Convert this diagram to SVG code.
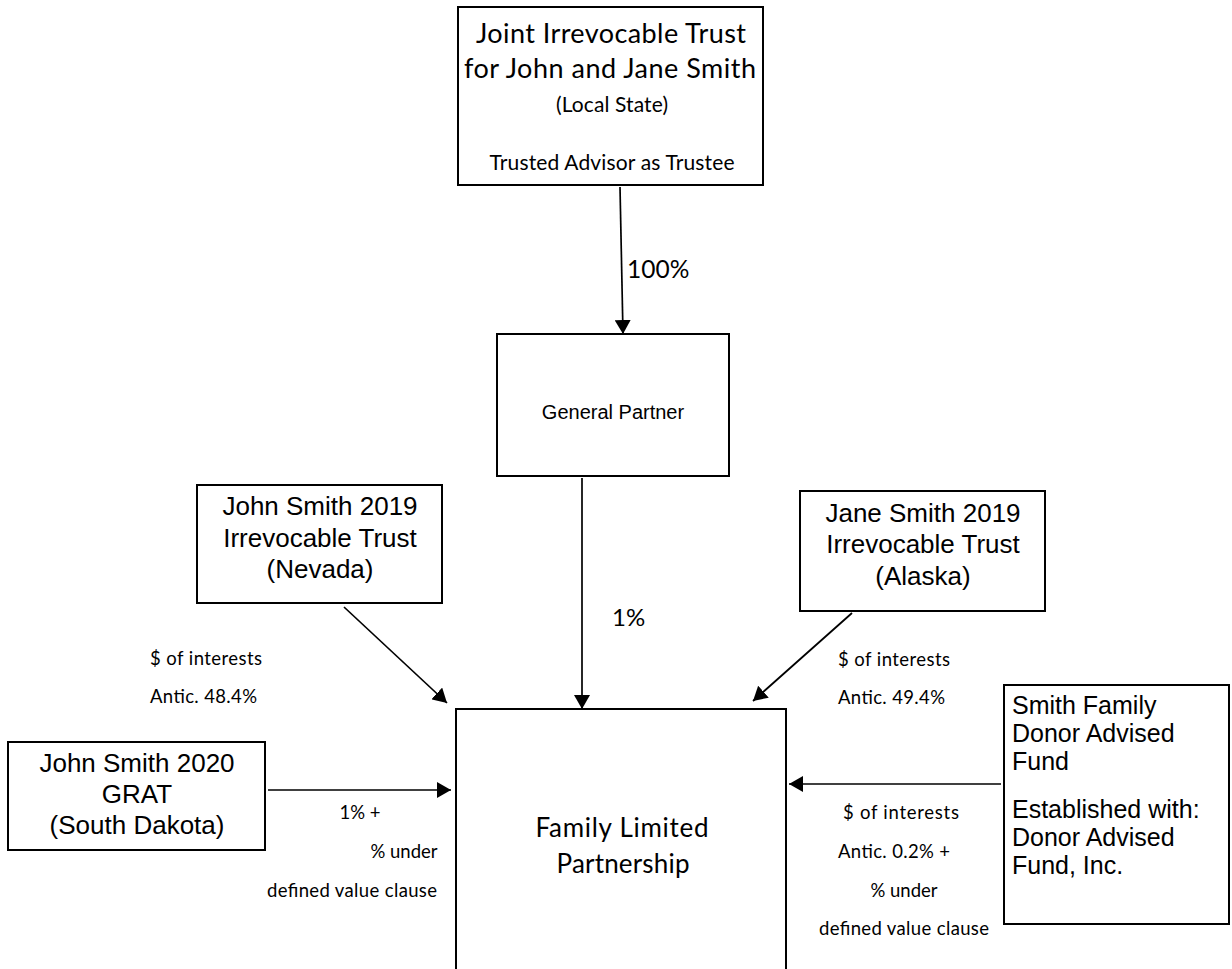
<svg xmlns="http://www.w3.org/2000/svg" width="1232" height="969" viewBox="0 0 1232 969">
  <style>
    .box { fill: #ffffff; stroke: #000000; stroke-width: 2; }
    .edge { fill: none; stroke: #000000; stroke-width: 1.7; }
    .cal { font-family: Lato, "Open Sans", sans-serif; fill: #000000; }
    .ari { font-family: "Liberation Sans", Arial, sans-serif; fill: #000000; }
    .mid { text-anchor: middle; }
  </style>
  <defs>
    <marker id="head" viewBox="0 0 14 16" refX="14" refY="8" markerWidth="14" markerHeight="16" markerUnits="userSpaceOnUse" orient="auto">
      <path d="M0,0 L14,8 L0,16 Z" fill="#000000"/>
    </marker>
  </defs>

  <rect width="1232" height="969" fill="#ffffff"/>

  <!-- connectors and their labels -->
  <g id="connectors">
    <line class="edge" x1="620" y1="187" x2="623" y2="334" marker-end="url(#head)"/>
    <line class="edge" x1="582" y1="478" x2="582" y2="709" marker-end="url(#head)"/>
    <line class="edge" x1="344" y1="607" x2="447" y2="703" marker-end="url(#head)"/>
    <line class="edge" x1="852" y1="613" x2="753" y2="701" marker-end="url(#head)"/>
    <line class="edge" x1="268" y1="790" x2="451" y2="790" marker-end="url(#head)"/>
    <line class="edge" x1="1001" y1="784" x2="789" y2="784" marker-end="url(#head)"/>

    <text class="cal" x="627" y="278" font-size="24.5">100%</text>
    <text class="cal" x="612" y="626" font-size="24">1%</text>

    <text class="cal" x="150" y="665" font-size="18.5" textLength="112">$ of interests</text>
    <text class="cal" x="150" y="703" font-size="18.5" textLength="107">Antic. 48.4%</text>

    <text class="cal" x="838" y="666" font-size="18.5" textLength="112">$ of interests</text>
    <text class="cal" x="838" y="704" font-size="18.5" textLength="107">Antic. 49.4%</text>

    <text class="cal mid" x="360" y="819" font-size="18.5">1% +</text>
    <text class="cal mid" x="404" y="858" font-size="18.5">% under</text>
    <text class="cal mid" x="352" y="897" font-size="18.5" textLength="170">defined value clause</text>

    <text class="cal mid" x="901" y="819" font-size="18.5" textLength="116">$ of interests</text>
    <text class="cal mid" x="894" y="858" font-size="18.5" textLength="112">Antic. 0.2% +</text>
    <text class="cal mid" x="904" y="897" font-size="18.5">% under</text>
    <text class="cal mid" x="904" y="935" font-size="18.5" textLength="170">defined value clause</text>
  </g>

  <!-- joint trust at the top -->
  <g id="joint-trust">
    <rect class="box" x="458" y="7" width="305" height="178"/>
    <text class="cal mid" x="611" y="43" font-size="27" textLength="270">Joint Irrevocable Trust</text>
    <text class="cal mid" x="610" y="78" font-size="27" textLength="292">for John and Jane Smith</text>
    <text class="cal mid" x="612" y="112" font-size="21" textLength="112">(Local State)</text>
    <text class="cal mid" x="612" y="170" font-size="21" textLength="245">Trusted Advisor as Trustee</text>
  </g>

  <g id="general-partner">
    <rect class="box" x="497" y="334" width="232" height="142"/>
    <text class="ari mid" x="613" y="419" font-size="20">General Partner</text>
  </g>

  <g id="john-2019">
    <rect class="box" x="197" y="485" width="245" height="118"/>
    <text class="ari mid" x="320" y="515" font-size="26">John Smith 2019</text>
    <text class="ari mid" x="320" y="547" font-size="26">Irrevocable Trust</text>
    <text class="ari mid" x="320" y="578" font-size="26">(Nevada)</text>
  </g>

  <g id="jane-2019">
    <rect class="box" x="800" y="491" width="245" height="120"/>
    <text class="ari mid" x="923" y="522" font-size="26">Jane Smith 2019</text>
    <text class="ari mid" x="923" y="553" font-size="26">Irrevocable Trust</text>
    <text class="ari mid" x="923" y="585" font-size="26">(Alaska)</text>
  </g>

  <g id="grat-2020">
    <rect class="box" x="8" y="742" width="257" height="108"/>
    <text class="ari mid" x="137" y="772" font-size="26">John Smith 2020</text>
    <text class="ari mid" x="137" y="803" font-size="26">GRAT</text>
    <text class="ari mid" x="137" y="834" font-size="26">(South Dakota)</text>
  </g>

  <g id="family-limited-partnership">
    <rect class="box" x="456" y="709" width="330" height="280"/>
    <text class="cal mid" x="622" y="837" font-size="26" textLength="173">Family Limited</text>
    <text class="cal mid" x="623" y="873" font-size="26" textLength="133">Partnership</text>
  </g>

  <g id="donor-advised-fund">
    <rect class="box" x="1004" y="685" width="225" height="239"/>
    <text class="ari" x="1012" y="714" font-size="25">Smith Family</text>
    <text class="ari" x="1012" y="742" font-size="25">Donor Advised</text>
    <text class="ari" x="1012" y="770" font-size="25">Fund</text>
    <text class="ari" x="1012" y="818" font-size="25">Established with:</text>
    <text class="ari" x="1012" y="846" font-size="25">Donor Advised</text>
    <text class="ari" x="1012" y="874" font-size="25">Fund, Inc.</text>
  </g>
</svg>
